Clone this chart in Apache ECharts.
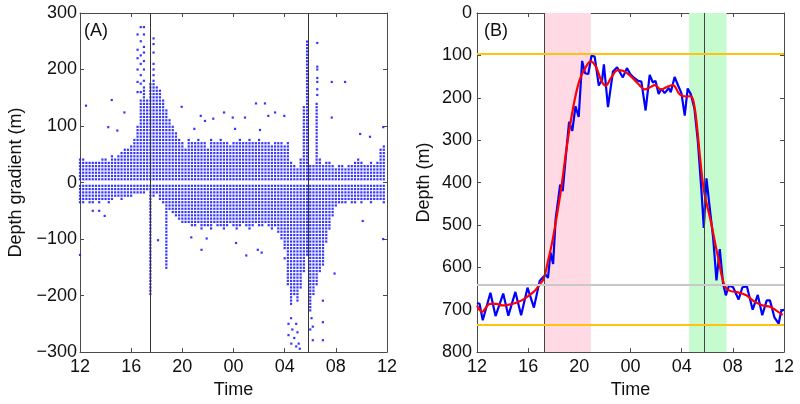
<!DOCTYPE html>
<html>
<head>
<meta charset="utf-8">
<script src="https://cdn.jsdelivr.net/npm/echarts@6/dist/echarts.min.js"></script>
<style>
html,body{margin:0;padding:0;background:#fff;}
#chart{width:800px;height:404px;}
</style>
</head>
<body>
<div id="chart"></div>
<script>
// ---------- Panel A : depth gradient scatter ----------
// columns every 15 minutes starting at 12:00 (hours, >24 = next day)
const colStart = 12;
const colStep = 0.25;
const rowStep = 5.8; // vertical quantisation of the gradient dots (m)
// upper extent of the dense positive block per column (m)
const posTop = [45,45,40,40,40,35,40,45,45,40,50,45,50,55,60,60,
  65,80,100,145,170,150,175,175,170,165,150,130,115,100,90,80,
  75,60,80,70,75,80,70,75,60,80,75,70,80,70,75,65,
  70,75,80,70,75,80,70,75,80,70,75,70,65,75,70,70,
  65,70,40,30,25,45,135,250,30,30,140,45,30,35,40,30,
  25,30,30,25,30,30,40,45,35,30,30,35,30,40,60,65];
// lower extent of the dense negative block per column (m)
const negBot = [-35,-35,-30,-35,-35,-30,-35,-30,-30,-35,-30,-25,-25,-30,-25,-25,
  -25,-20,-20,-20,-20,-15,-200,-25,-20,-30,-40,-155,-50,-55,-60,-65,
  -70,-75,-75,-80,-80,-75,-85,-80,-80,-85,-75,-80,-80,-85,-80,-75,
  -80,-85,-80,-75,-80,-85,-80,-75,-80,-80,-75,-80,-85,-80,-90,-100,
  -120,-180,-220,-200,-210,-190,-160,-130,-230,-200,-185,-160,-150,-110,-85,-60,
  -45,-35,-35,-35,-30,-35,-35,-30,-35,-30,-30,-35,-30,-30,-30,-35];
// isolated dots outside the dense blocks [time, gradient]
const outliersA = [
  [12.47,136],[14.21,98],[14.48,146],[15.47,124],[14.92,92],
  [16.5,262],[16.5,235],[16.5,220],[16.5,200],[16.5,178],[16.5,160],
  [16.75,275],[16.75,250],[16.75,225],[16.75,210],[16.75,190],[16.75,175],[16.75,160],
  [17.0,275],[17.0,262],[17.0,240],[17.0,230],[17.0,215],[17.0,200],[17.0,180],
  [17.75,255],[17.75,245],[17.75,230],[17.75,210],[17.75,200],[17.75,190],[17.75,180],
  [19.95,134],[20.94,95],[21.44,118],[21.77,109],[22.42,113],[23.26,124],[23.94,115],
  [24.12,95],[24.9,115],[25.76,140],[26.07,93],[26.46,140],[26.72,118],[27.25,124],[27.97,118],
  [30.55,247],[30.55,205],[30.55,200],[30.55,185],[30.55,178],[30.55,165],[30.55,155],
  [31.68,178],[32.72,178],[31.68,115],[33.9,86],[34.67,81],[35.71,98],
  [12.0,-128],[13.0,-50],[13.5,-50],[13.93,-59],[18.1,-102],[20.7,-97],[21.5,-119],[21.9,-99],
  [24.2,-107],[25.0,-129],[25.9,-119],[26.2,-124],[28.0,-134],[31.9,-161],[35.7,-100],[34.1,-68],
  [28.3,-250],[28.3,-270],[28.52,-285],[28.5,-240],[28.6,-260],[28.75,-275],[28.9,-250],
  [29.0,-265],[29.1,-285],[29.18,-294],[28.9,-290],[30.0,-260],[30.1,-240],[30.2,-279],
  [30.2,-255],[30.99,-279],[30.99,-247],[30.99,-209]
];
const eventTimesA = [17.5, 29.88];

// ---------- Panel B : depth time series ----------
const depthTimes = [12.0,12.2,12.45,13.05,13.45,14.05,14.45,15.0,15.45,15.95,16.45,16.9,17.2,17.4,17.55,17.75,17.95,18.15,18.35,18.5,18.7,19.0,19.2,19.45,19.7,19.95,20.22,20.45,20.7,20.95,21.2,21.52,21.78,21.92,22.24,22.63,22.95,23.1,23.4,23.72,23.98,24.24,24.6,24.85,25.18,25.5,25.75,25.95,26.2,26.42,26.67,27.0,27.15,27.45,27.72,27.98,28.24,28.47,28.72,29.0,29.27,29.55,29.73,29.94,30.15,30.46,30.72,30.98,31.24,31.45,31.7,32.02,32.45,32.75,33.1,33.55,33.95,34.3,34.65,34.9,35.25,35.58,35.78,36.0];
const depthRaw = [684,686,725,660,715,662,714,658,713,648,695,632,622,618,625,565,592,485,440,405,420,320,257,278,220,245,113,142,144,101,103,171,158,121,222,138,128,131,152,130,144,152,160,162,230,146,164,160,191,179,189,177,187,151,171,189,242,178,192,226,304,421,507,390,448,530,631,557,639,666,643,647,676,647,645,700,665,713,678,678,718,733,703,700];
const smoothTimes = [12.0,12.2,12.4,12.7,13.0,13.5,14.0,14.5,15.0,15.5,16.0,16.5,16.9,17.2,17.5,17.9,18.3,18.6,19.0,19.5,20.0,20.5,20.9,21.3,21.7,22.05,22.5,23.0,23.45,23.95,24.6,25.1,25.5,25.9,26.4,26.8,27.3,27.85,28.35,28.7,28.95,29.2,29.45,29.75,30.3,30.85,31.35,31.75,32.4,33.05,33.7,34.35,34.9,35.4,35.9];
const depthSmooth = [690,700,705,695,686,686,690,688,684,678,668,656,640,628,592,537,468,410,320,226,160,128,114,127,158,172,152,135,137,147,167,180,176,170,181,175,170,192,197,196,212,268,345,420,495,577,643,655,659,666,681,690,693,702,712];
const eventTimesB = [17.22, 29.76];
const ascentBand = [17.32, 20.9];
const descentBand = [28.59, 31.51];
const refDepthsOrange = [97, 736];
const refDepthGrey = [641];

// ---------- build scatter table ----------
const scatterData = [];
for (let i = 0; i < posTop.length; i++) {
  const t = colStart + i * colStep;
  for (let v = rowStep; v <= posTop[i]; v += rowStep) scatterData.push([t, v]);
  for (let v = -rowStep; v >= negBot[i]; v -= rowStep) scatterData.push([t, v]);
}
outliersA.forEach(p => scatterData.push(p));

const zip = (a, b) => a.map((x, i) => [x, b[i]]);
const hourFmt = v => String(((v % 24) + 24) % 24).padStart(2, '0');
const minusFmt = v => String(v).replace('-', '\u2212');

const FONT = 'Liberation Sans, Arial, sans-serif';
const AX = '#4a4a4a';
function xAx(grid, pos, show) {
  return {
    type: 'value', gridIndex: grid, position: pos, min: 12, max: 36, interval: 4,
    axisLine: {show: true, onZero: false, lineStyle: {color: AX, width: 1}},
    axisTick: {show: true, inside: true, length: 4, lineStyle: {color: AX}},
    axisLabel: {show: show, formatter: hourFmt, fontSize: 18, color: '#111', fontFamily: FONT, margin: 6},
    splitLine: {show: false},
    name: show ? 'Time' : '', nameLocation: 'middle', nameGap: 27,
    nameTextStyle: {fontSize: 18, color: '#111', fontFamily: FONT}
  };
}
function yAx(grid, pos, show, min, max, inverse, name, gap, margin) {
  return {
    type: 'value', gridIndex: grid, position: pos, min: min, max: max, interval: 100, inverse: inverse,
    axisLine: {show: true, onZero: false, lineStyle: {color: AX, width: 1}},
    axisTick: {show: true, inside: true, length: 4, lineStyle: {color: AX}},
    axisLabel: {show: show, formatter: minusFmt, fontSize: 18, color: '#111', fontFamily: FONT, margin: margin},
    splitLine: {show: false},
    name: show ? name : '', nameLocation: 'middle', nameGap: gap,
    nameTextStyle: {fontSize: 18, color: '#111', fontFamily: FONT}
  };
}

const chart = echarts.init(document.getElementById('chart'), null, {renderer: 'canvas'});
chart.setOption({
  animation: false,
  backgroundColor: '#fff',
  grid: [
    {left: 80, top: 13, width: 307, height: 342},
    {left: 477, top: 13, width: 307, height: 342}
  ],
  xAxis: [xAx(0, 'bottom', true), xAx(0, 'top', false), xAx(1, 'bottom', true), xAx(1, 'top', false)],
  yAxis: [
    yAx(0, 'left', true, -300, 300, false, 'Depth gradient (m)', 55, 3),
    yAx(0, 'right', false, -300, 300, false, '', 0, 3),
    yAx(1, 'left', true, 0, 800, true, 'Depth (m)', 44, 5),
    yAx(1, 'right', false, 0, 800, true, '', 0, 5)
  ],
  graphic: [
    {type: 'text', left: 84, top: 22, style: {text: '(A)', fontSize: 18, fontFamily: FONT, fill: '#111'}},
    {type: 'text', left: 484, top: 22, style: {text: '(B)', fontSize: 18, fontFamily: FONT, fill: '#111'}}
  ],
  series: [
    {
      type: 'scatter', xAxisIndex: 0, yAxisIndex: 0, data: scatterData,
      symbol: 'rect', symbolSize: 2.2, progressive: 0, large: false,
      itemStyle: {color: '#2020ff', opacity: 0.9},
      markLine: {silent: true, symbol: 'none', label: {show: false},
        lineStyle: {color: '#333', width: 1, type: 'solid'},
        data: eventTimesA.map(t => ({xAxis: t}))}
    },
    {
      type: 'line', xAxisIndex: 2, yAxisIndex: 2, data: [], z: 1,
      markArea: {silent: true, data: [
        [{xAxis: ascentBand[0], itemStyle: {color: '#ffd9e4'}}, {xAxis: ascentBand[1]}],
        [{xAxis: descentBand[0], itemStyle: {color: '#c6fbd0'}}, {xAxis: descentBand[1]}]
      ]},
      markLine: {silent: true, symbol: 'none', label: {show: false}, data: [
        ...eventTimesB.map(t => ({xAxis: t, lineStyle: {color: '#444', width: 1, type: 'solid'}})),
        ...refDepthsOrange.map(d => ({yAxis: d, lineStyle: {color: '#ffc20e', width: 2, type: 'solid'}})),
        ...refDepthGrey.map(d => ({yAxis: d, lineStyle: {color: '#c8c8c8', width: 2, type: 'solid'}}))
      ]}
    },
    {
      type: 'line', xAxisIndex: 2, yAxisIndex: 2, z: 3, data: zip(depthTimes, depthRaw),
      showSymbol: false, lineStyle: {color: '#0000ff', width: 2.2}
    },
    {
      type: 'line', xAxisIndex: 2, yAxisIndex: 2, z: 4, data: zip(smoothTimes, depthSmooth),
      showSymbol: false, smooth: 0.4, lineStyle: {color: '#ff0000', width: 2.2}
    }
  ]
});
</script>
</body>
</html>
